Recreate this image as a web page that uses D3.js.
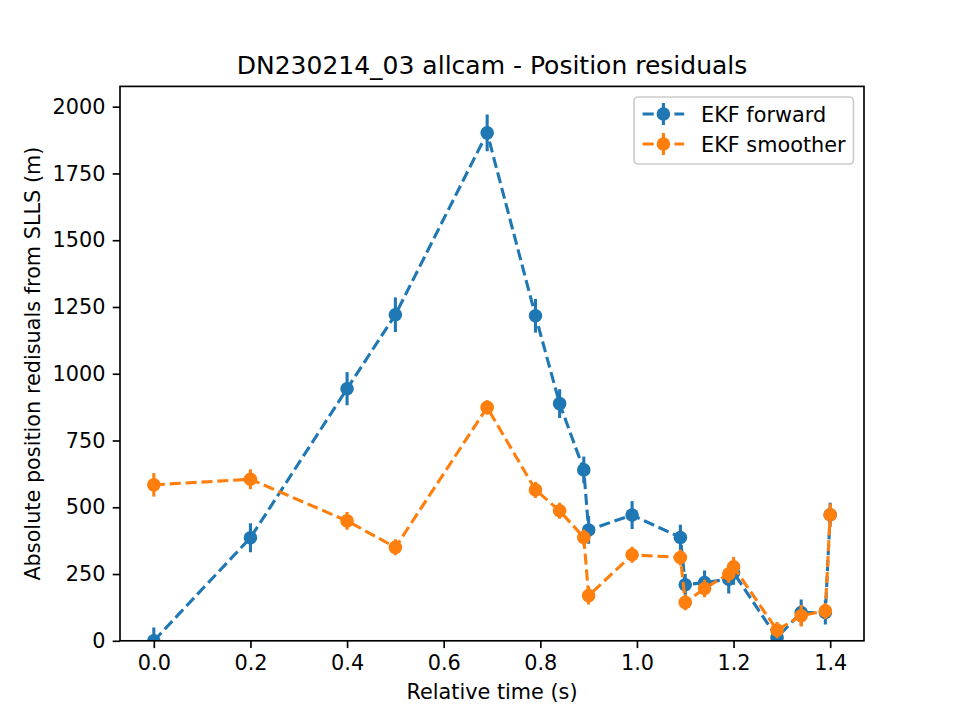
<!DOCTYPE html>
<html>
<head>
<meta charset="utf-8">
<script src="https://cdn.jsdelivr.net/npm/d3@7"></script>
<style>
    body { margin: 0; background: #fff; }
    text { font-family: "DejaVu Sans", sans-serif; fill: #000; }
</style>
</head>
<body>
<svg id="chart" width="960" height="720"></svg>
<script>
// values
const relTime = [0.0, 0.2, 0.4, 0.5, 0.69, 0.79, 0.84, 0.89, 0.9, 0.99, 1.09, 1.1, 1.14, 1.19, 1.2, 1.29, 1.34, 1.39, 1.4];
const fwdRes = [0, 386, 944, 1221, 1902, 1217, 888, 640, 415, 471, 387, 210, 218, 231, 255, 12, 106, 106, 472];
const fwdErr = [50, 54, 62, 65, 69, 63, 54, 50, 52, 52, 48, 40, 45, 54, 45, 30, 49, 45, 45];
const smoRes = [584, 605, 449, 350, 874, 565, 487, 387, 169, 322, 312, 144, 196, 250, 277, 40, 94, 112, 472];
const smoErr = [44, 37, 33, 30, 27, 30, 30, 30, 33, 30, 30, 30, 33, 33, 37, 30, 40, 30, 42];
const seriesNames = ["EKF forward", "EKF smoother"];
const xTicks = [0.0, 0.2, 0.4, 0.6, 0.8, 1.0, 1.2, 1.4];
const yTicks = [0, 250, 500, 750, 1000, 1250, 1500, 1750, 2000];

const colors = ["#1f77b4", "#ff7f0e"];
const plotLeft = 120, plotRight = 864, plotTop = 86.4, plotBottom = 640.8;
const fs = 20.8;      // 10pt at 150 dpi
const lw = 3.1;       // 1.5pt

let svg = d3.select("#chart");

let xScale = d3.scaleLinear().domain([-0.07, 1.47]).range([plotLeft, plotRight]);
let yScale = d3.scaleLinear().domain([0, 2076]).range([plotBottom, plotTop]);

svg.append("defs").append("clipPath").attr("id", "plotClip")
    .append("rect")
    .attr("x", plotLeft).attr("y", plotTop)
    .attr("width", plotRight - plotLeft).attr("height", plotBottom - plotTop);

// build series from the arrays
let series = [
    relTime.map((t, i) => ({ x: t, y: fwdRes[i], e: fwdErr[i] })),
    relTime.map((t, i) => ({ x: t, y: smoRes[i], e: smoErr[i] }))
];

let plot = svg.append("g").attr("clip-path", "url(#plotClip)");

let lineGen = d3.line()
    .x(d => xScale(d.x))
    .y(d => yScale(d.y));

series.forEach((data, k) => {
    let g = plot.append("g");
    g.selectAll("line").data(data).enter().append("line")
        .attr("x1", d => xScale(d.x))
        .attr("x2", d => xScale(d.x))
        .attr("y1", d => yScale(d.y - d.e))
        .attr("y2", d => yScale(d.y + d.e))
        .attr("stroke", colors[k])
        .attr("stroke-width", lw);
    g.append("path")
        .attr("d", lineGen(data))
        .attr("fill", "none")
        .attr("stroke", colors[k])
        .attr("stroke-width", lw)
        .attr("stroke-dasharray", "11.1,4.8");
    g.selectAll("circle").data(data).enter().append("circle")
        .attr("cx", d => xScale(d.x))
        .attr("cy", d => yScale(d.y))
        .attr("r", 6.8)
        .attr("fill", colors[k]);
});

// axes
let xAxis = svg.append("g")
    .attr("transform", `translate(0,${plotBottom})`)
    .call(d3.axisBottom(xScale).tickValues(xTicks).tickFormat(d3.format(".1f"))
        .tickSize(7.3).tickPadding(7.3).tickSizeOuter(0));
let yAxis = svg.append("g")
    .attr("transform", `translate(${plotLeft},0)`)
    .call(d3.axisLeft(yScale).tickValues(yTicks).tickFormat(d3.format("d"))
        .tickSize(7.3).tickPadding(7.3).tickSizeOuter(0));

for (let ax of [xAxis, yAxis]) {
    ax.select(".domain").remove();
    ax.selectAll(".tick line").attr("stroke", "#000").attr("stroke-width", 1.67);
    ax.selectAll(".tick text")
        .attr("font-family", "DejaVu Sans")
        .attr("font-size", fs)
        .attr("fill", "#000");
}

// spines
svg.append("rect")
    .attr("x", plotLeft).attr("y", plotTop)
    .attr("width", plotRight - plotLeft).attr("height", plotBottom - plotTop)
    .attr("fill", "none")
    .attr("stroke", "#000")
    .attr("stroke-width", 1.67);

// labels
svg.append("text")
    .attr("x", (plotLeft + plotRight) / 2).attr("y", 74)
    .attr("text-anchor", "middle")
    .attr("font-size", 25)
    .text("DN230214_03 allcam - Position residuals");

svg.append("text")
    .attr("x", (plotLeft + plotRight) / 2).attr("y", 699)
    .attr("text-anchor", "middle")
    .attr("font-size", fs)
    .text("Relative time (s)");

svg.append("text")
    .attr("transform", `translate(40,${(plotTop + plotBottom) / 2}) rotate(-90)`)
    .attr("text-anchor", "middle")
    .attr("font-size", fs)
    .text("Absolute position redisuals from SLLS (m)");

// legend
let legend = svg.append("g");
legend.append("rect")
    .attr("x", 634).attr("y", 97)
    .attr("width", 219.5).attr("height", 67)
    .attr("rx", 4)
    .attr("fill", "#fff").attr("fill-opacity", 0.8)
    .attr("stroke", "#cccccc").attr("stroke-width", 1.67);

seriesNames.forEach((name, k) => {
    let cy = 114 + k * 30;
    legend.append("line")
        .attr("x1", 642.6).attr("x2", 684.2)
        .attr("y1", cy).attr("y2", cy)
        .attr("stroke", colors[k]).attr("stroke-width", lw)
        .attr("stroke-dasharray", "11.1,4.8");
    legend.append("line")
        .attr("x1", 663.4).attr("x2", 663.4)
        .attr("y1", cy - 11).attr("y2", cy + 11)
        .attr("stroke", colors[k]).attr("stroke-width", lw);
    legend.append("circle")
        .attr("cx", 663.4).attr("cy", cy).attr("r", 6.8)
        .attr("fill", colors[k]);
    legend.append("text")
        .attr("x", 701).attr("y", cy + 7.5)
        .attr("font-size", fs)
        .text(name);
});
</script>
</body>
</html>
